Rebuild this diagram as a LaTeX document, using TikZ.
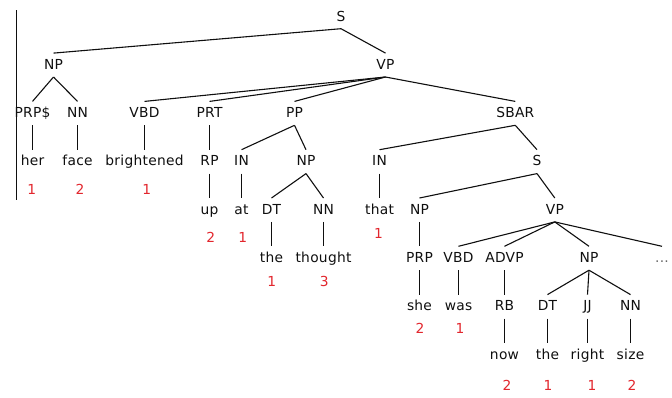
\documentclass[tikz,border=0pt]{standalone}
\usepackage{fontspec}
\newfontfamily\treefont[LetterSpace=2]{DejaVu Sans}
\definecolor{numred}{RGB}{226,38,45}
\definecolor{ink}{RGB}{15,15,15}
\tikzset{
  cat/.style={font=\treefont\fontsize{13.8}{15}\selectfont, text=ink, anchor=base,
    inner xsep=0pt, inner ysep=0pt, text height=16pt, text depth=7.5pt},
  cnt/.style={font=\treefont\fontsize{13.8}{15}\selectfont, text=numred, anchor=base, inner sep=0pt},
  branch/.style={draw=ink, line width=1.1pt}
}
\begin{document}
\begin{tikzpicture}[x=1pt, y=-1pt]
\useasboundingbox (0,0) rectangle (672,397);
% level baselines
\def\La{21}\def\Lb{69.3}\def\Lc{117.6}\def\Ld{165.9}
\def\Le{214.2}\def\Lf{262.5}\def\Lg{310.8}\def\Lh{359.1}

% left rule
\draw[line width=1.1pt, ink] (16.5,10) -- (16.5,200);

% level 1
\node[cat] (s0) at (341,\La) {S};
% level 2
\node[cat] (np1) at (53.5,\Lb) {NP};
\node[cat] (vp1) at (385.5,\Lb) {VP};
% level 3
\node[cat] (prps) at (32.5,\Lc) {PRP\$};
\node[cat] (nn1) at (77.5,\Lc) {NN};
\node[cat] (vbd1) at (144.5,\Lc) {VBD};
\node[cat] (prt) at (209.5,\Lc) {PRT};
\node[cat] (pp) at (294.5,\Lc) {PP};
\node[cat] (sbar) at (515.3,\Lc) {SBAR};
% level 4
\node[cat] (her) at (32.5,\Ld) {her};
\node[cat] (face) at (77.5,\Ld) {face};
\node[cat] (bright) at (144.5,\Ld) {brightened};
\node[cat] (rp) at (209.5,\Ld) {RP};
\node[cat] (in1) at (241.5,\Ld) {IN};
\node[cat] (np2) at (306,\Ld) {NP};
\node[cat] (in2) at (379.5,\Ld) {IN};
\node[cat] (s1) at (537,\Ld) {S};
% level 5
\node[cat] (up) at (209.5,\Le) {up};
\node[cat] (at) at (241.5,\Le) {at};
\node[cat] (dt1) at (271.5,\Le) {DT};
\node[cat] (nn2) at (323.5,\Le) {NN};
\node[cat] (that) at (379.5,\Le) {that};
\node[cat] (np3) at (419.5,\Le) {NP};
\node[cat] (vp2) at (554.8,\Le) {VP};
% level 6
\node[cat] (the1) at (271.5,\Lf) {the};
\node[cat] (thought) at (323.5,\Lf) {thought};
\node[cat] (prp) at (419.5,\Lf) {PRP};
\node[cat] (vbd2) at (458.5,\Lf) {VBD};
\node[cat] (advp) at (504.5,\Lf) {ADVP};
\node[cat] (np4) at (589,\Lf) {NP};
\node[cat, text=black!60] (more) at (662,\Lf) {...};
% level 7
\node[cat] (she) at (419.5,\Lg) {she};
\node[cat] (was) at (458.5,\Lg) {was};
\node[cat] (rb) at (504.5,\Lg) {RB};
\node[cat] (dt2) at (547.5,\Lg) {DT};
\node[cat] (jj) at (587.5,\Lg) {JJ};
\node[cat] (nn3) at (630.5,\Lg) {NN};
% level 8
\node[cat] (now) at (504.5,\Lh) {now};
\node[cat] (the2) at (547.5,\Lh) {the};
\node[cat] (right) at (587.5,\Lh) {right};
\node[cat] (size) at (630.5,\Lh) {size};

% branches
\draw[branch] (s0.south) -- (np1.north);
\draw[branch] (s0.south) -- (vp1.north);
\draw[branch] (np1.south) -- (prps.north);
\draw[branch] (np1.south) -- (nn1.north);
\draw[branch] (vp1.south) -- (vbd1.north);
\draw[branch] (vp1.south) -- (prt.north);
\draw[branch] (vp1.south) -- (pp.north);
\draw[branch] (vp1.south) -- (sbar.north);
\draw[branch] (prps.south) -- (her.north);
\draw[branch] (nn1.south) -- (face.north);
\draw[branch] (vbd1.south) -- (bright.north);
\draw[branch] (prt.south) -- (rp.north);
\draw[branch] (pp.south) -- (in1.north);
\draw[branch] (pp.south) -- (np2.north);
\draw[branch] (sbar.south) -- (in2.north);
\draw[branch] (sbar.south) -- (s1.north);
\draw[branch] (rp.south) -- (up.north);
\draw[branch] (in1.south) -- (at.north);
\draw[branch] (np2.south) -- (dt1.north);
\draw[branch] (np2.south) -- (nn2.north);
\draw[branch] (in2.south) -- (that.north);
\draw[branch] (s1.south) -- (np3.north);
\draw[branch] (s1.south) -- (vp2.north);
\draw[branch] (dt1.south) -- (the1.north);
\draw[branch] (nn2.south) -- (thought.north);
\draw[branch] (np3.south) -- (prp.north);
\draw[branch] (vp2.south) -- (vbd2.north);
\draw[branch] (vp2.south) -- (advp.north);
\draw[branch] (vp2.south) -- (np4.north);
\draw[branch] (vp2.south) -- (more.north);
\draw[branch] (prp.south) -- (she.north);
\draw[branch] (vbd2.south) -- (was.north);
\draw[branch] (advp.south) -- (rb.north);
\draw[branch] (np4.south) -- (dt2.north);
\draw[branch] (np4.south) -- (jj.north);
\draw[branch] (np4.south) -- (nn3.north);
\draw[branch] (rb.south) -- (now.north);
\draw[branch] (dt2.south) -- (the2.north);
\draw[branch] (jj.south) -- (right.north);
\draw[branch] (nn3.south) -- (size.north);

% word counts
\node[cnt] (c1) at (31.7,194) {1};
\node[cnt] (c2) at (80,194) {2};
\node[cnt] (c3) at (146.7,194) {1};
\node[cnt] (c4) at (210.7,242) {2};
\node[cnt] (c5) at (242.7,242) {1};
\node[cnt] (c6) at (378.5,238) {1};
\node[cnt] (c7) at (271.7,286) {1};
\node[cnt] (c8) at (324.3,286) {3};
\node[cnt] (c9) at (420,333) {2};
\node[cnt] (c10) at (460,333) {1};
\node[cnt] (c11) at (507,390) {2};
\node[cnt] (c12) at (548,390) {1};
\node[cnt] (c13) at (592,390) {1};
\node[cnt] (c14) at (632,390) {2};
\end{tikzpicture}
\end{document}
